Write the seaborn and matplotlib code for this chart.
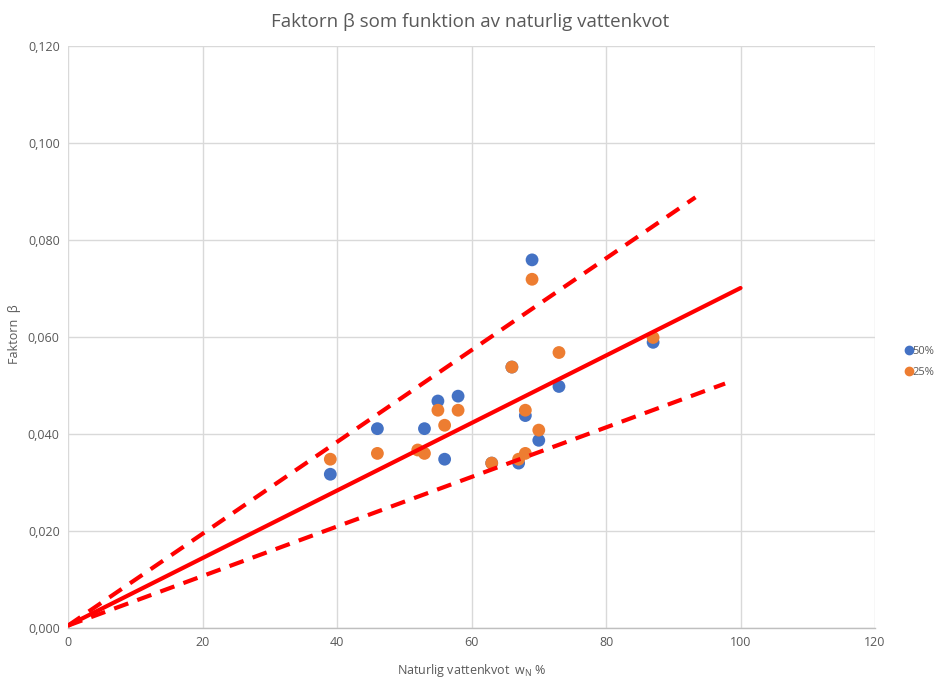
import numpy as np
import pandas as pd
import matplotlib
matplotlib.use("Agg")
import matplotlib.pyplot as plt
import seaborn as sns
from matplotlib.ticker import FuncFormatter, MultipleLocator
from matplotlib.lines import Line2D

# Data
x50 = [39, 46, 53, 55, 56, 58, 63, 66, 67, 68, 69, 70, 73, 87]
y50 = [0.0317, 0.0411, 0.0411, 0.0468, 0.0348, 0.0478, 0.0340, 0.0538, 0.0340, 0.0438, 0.0759, 0.0387, 0.0498, 0.0589]
x25 = [39, 46, 52, 53, 55, 56, 58, 63, 66, 67, 68, 68, 69, 70, 73, 87]
y25 = [0.0348, 0.0360, 0.0367, 0.0360, 0.0449, 0.0418, 0.0449, 0.0340, 0.0538, 0.0348, 0.0449, 0.0360, 0.0719, 0.0408, 0.0568, 0.0599]

line_mid_x = [0, 100]
line_mid_y = [0.0005, 0.0701]
line_up_x = [0, 93.3]
line_up_y = [0.0005, 0.0888]
line_lo_x = [0, 97.7]
line_lo_y = [0.0005, 0.0504]

series_labels = ["50%", "25%"]
x_ticks = [0, 20, 40, 60, 80, 100, 120]

sns.set_theme(style="white")
plt.rcParams['font.family'] = ['Open Sans', 'DejaVu Sans']

fig = plt.figure(figsize=(9.41, 6.79), dpi=100)
ax = fig.add_axes([0.0723, 0.0751, 0.8576, 0.8572])

df = pd.concat([
    pd.DataFrame({"x": x50, "y": y50, "serie": series_labels[0]}),
    pd.DataFrame({"x": x25, "y": y25, "serie": series_labels[1]}),
])
palette = {"50%": "#4472C4", "25%": "#ED7D31"}
sns.scatterplot(data=df, x="x", y="y", hue="serie", palette=palette, s=85,
                edgecolor="none", ax=ax, legend=False, zorder=3)

lines = pd.DataFrame({"x": line_mid_x, "y": line_mid_y})
sns.lineplot(data=lines, x="x", y="y", color="#FF0000", linewidth=3.0, ax=ax, zorder=4)
lu = pd.DataFrame({"x": line_up_x, "y": line_up_y})
sns.lineplot(data=lu, x="x", y="y", color="#FF0000", linewidth=3.0, ax=ax, zorder=4,
             linestyle=(0, (3.6, 2.4)))
ll = pd.DataFrame({"x": line_lo_x, "y": line_lo_y})
sns.lineplot(data=ll, x="x", y="y", color="#FF0000", linewidth=3.0, ax=ax, zorder=4,
             linestyle=(0, (3.6, 2.3)))

ax.set_xlim(0, 120)
ax.set_ylim(0, 0.120)
ax.set_xticks(x_ticks)
ax.yaxis.set_major_locator(MultipleLocator(0.02))
ax.yaxis.set_major_formatter(FuncFormatter(lambda v, p: f"{v:.3f}".replace(".", ",")))
ax.grid(True, color="#D9D9D9", linewidth=1.0)
ax.set_axisbelow(True)
for s in ["top", "right", "left"]:
    ax.spines[s].set_visible(False)
ax.spines["bottom"].set_color("#BFBFBF")
ax.spines["bottom"].set_linewidth(1.0)
ax.tick_params(axis="both", colors="#595959", labelsize=9, length=0, pad=6)

ax.set_xlabel(r"Naturlig vattenkvot  $\mathregular{w_N}$ %", color="#595959", fontsize=9, labelpad=9)
ax.set_ylabel("Faktorn  β", color="#595959", fontsize=9)
ax.yaxis.set_label_coords(-0.058, 0.505)
fig.text(0.5, 0.968, "Faktorn β som funktion av naturlig vattenkvot", ha="center", va="center",
         color="#595959", fontsize=13.5)

handles = [Line2D([], [], marker="o", linestyle="", color=palette[l], markersize=6) for l in series_labels]
fig.legend(handles, series_labels, loc="center left", bbox_to_anchor=(0.959, 0.467),
           frameon=False, fontsize=8, handletextpad=-0.3, labelspacing=0.9, handlelength=1.2,
           borderaxespad=0, borderpad=0, labelcolor="#595959")

fig.savefig("out.png", dpi=100)
